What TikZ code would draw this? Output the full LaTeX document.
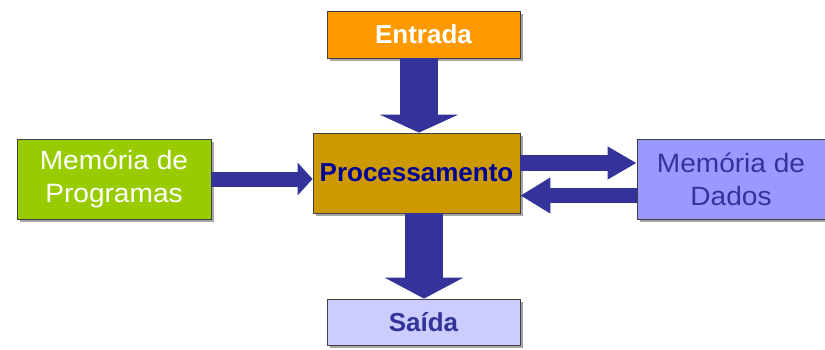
\documentclass[tikz,border=0pt]{standalone}
\usepackage{fontspec}
\setmainfont{Liberation Sans}
\newfontfamily\memfont[FakeStretch=1.06]{Liberation Sans}
\usetikzlibrary{arrows.meta,shadows}
\definecolor{laranja}{HTML}{FF9900}
\definecolor{ocre}{HTML}{CC9900}
\definecolor{verde}{HTML}{99CC00}
\definecolor{lilas}{HTML}{9999FF}
\definecolor{lilasclaro}{HTML}{CCCCFF}
\definecolor{azulseta}{HTML}{333399}
\definecolor{azulescuro}{HTML}{000099}
\begin{document}
\begin{tikzpicture}[x=1pt,y=1pt,
		bloco/.style={draw=black!75, line width=0.8pt, inner sep=0pt, align=center,
			drop shadow={shadow xshift=3pt, shadow yshift=-3pt, fill=black!35, opacity=1}},
		negrito/.style={font=\fontsize{26}{30}\selectfont\bfseries},
		normal/.style={font=\memfont\fontsize{26.5}{33}\selectfont},
		seta/.style n args={3}{draw=azulseta, line width=#1, -{Triangle[width=#2,length=#3]}}]
			\useasboundingbox (0,0) rectangle (825,349);
			\node[bloco, negrito, fill=laranja, text=white, minimum width=193pt, minimum height=47pt] (entrada) at (423.5,314.5){Entrada};
			\node[bloco, negrito, fill=ocre, text=azulescuro, minimum width=207pt, minimum height=80pt] (proc) at (416.5,176){Processamento};
			\node[bloco, normal, fill=verde, text=white, minimum width=194pt, minimum height=80pt] (progmem) at (114,170){Memória de\\Programas};
			\node[bloco, normal, fill=lilas, text=azulseta, minimum width=188pt, minimum height=80pt] (datamem) at (731,170){Memória de\\Dados};
			\node[bloco, negrito, fill=lilasclaro, text=azulseta, minimum width=193pt, minimum height=46pt] (saida) at (423.5,27){Saída};
			\draw[seta={38pt}{78pt}{18pt}] ([xshift=-4.5pt]entrada.south) -- ([xshift=2.5pt]proc.north);
			\draw[seta={38pt}{78pt}{21pt}] ([xshift=7.5pt]proc.south) -- ([xshift=0.5pt]saida.north);
			\draw[seta={15pt}{32pt}{15pt}] (progmem.east) -- (proc.west |- progmem.east);
			\draw[seta={16pt}{31pt}{29pt}] ([yshift=10pt]proc.east) -- ([yshift=16pt]datamem.west);
			\draw[seta={15pt}{34pt}{30pt}] ([yshift=-16.5pt]datamem.west) -- ([yshift=-22.5pt]proc.east);
		\end{tikzpicture}
\end{document}
